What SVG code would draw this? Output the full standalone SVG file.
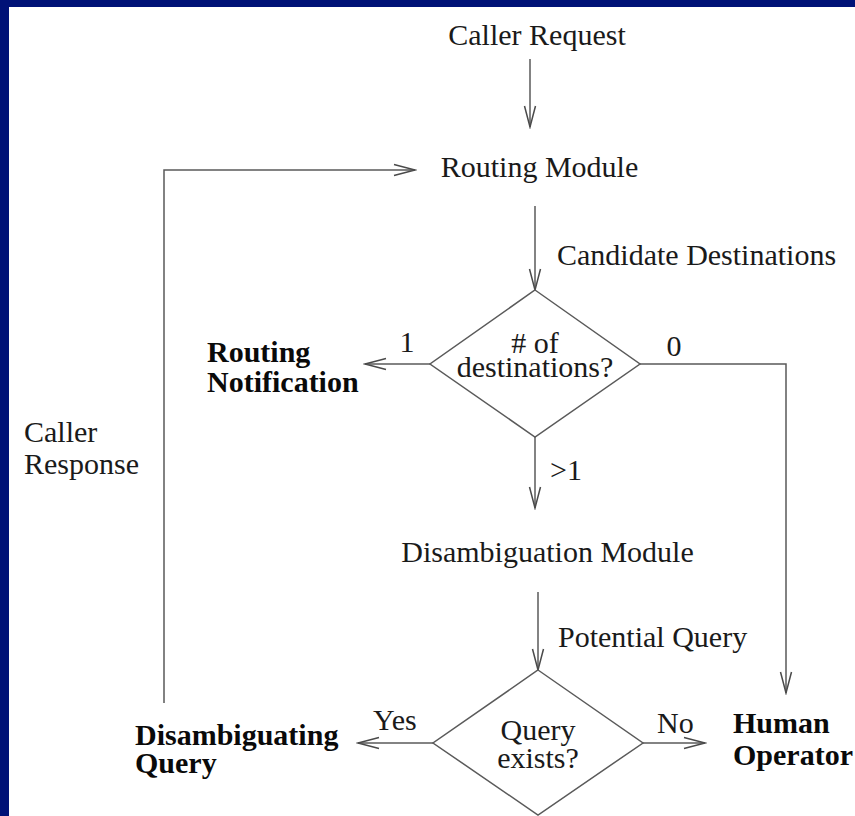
<svg xmlns="http://www.w3.org/2000/svg" width="855" height="816" viewBox="0 0 855 816">
  <style>
    .t { font-family: "Liberation Serif", "Times New Roman", serif; font-size: 30px; fill: #1a1a1a; }
    .b { font-weight: bold; fill: #0a0a0a; }
    .m { text-anchor: middle; }
    .ln { fill: none; stroke: #5a5a5a; stroke-width: 1.5; }
    .ar { marker-end: url(#head); }
    .dm { fill: #ffffff; stroke: #5a5a5a; stroke-width: 1.5; }
  </style>
  <defs>
    <marker id="head" markerUnits="userSpaceOnUse" markerWidth="24" markerHeight="14" viewBox="-22 -7 24 14" refX="0" refY="0" orient="auto">
      <path d="M -21 -5.5 L 0 0 L -21 5.5" fill="none" stroke="#4a4a4a" stroke-width="1.5"/>
    </marker>
  </defs>

  <!-- page frame -->
  <rect x="0" y="0" width="855" height="816" fill="#ffffff"/>
  <rect x="0" y="0" width="855" height="7" fill="#001277"/>
  <rect x="0" y="0" width="9" height="816" fill="#001277"/>

  <!-- connectors -->
  <g id="connectors">
    <line class="ln ar" x1="530" y1="59" x2="530" y2="127"/>
    <polyline class="ln ar" points="164,703 164,170 415,170"/>
    <line class="ln ar" x1="535" y1="206" x2="535" y2="290"/>
    <line class="ln ar" x1="430" y1="364" x2="365" y2="364"/>
    <polyline class="ln ar" points="640,364 786,364 786,693"/>
    <line class="ln ar" x1="535" y1="437" x2="535" y2="508"/>
    <line class="ln ar" x1="538" y1="592" x2="538" y2="670"/>
    <line class="ln ar" x1="433" y1="743" x2="358" y2="743"/>
    <line class="ln ar" x1="643" y1="743" x2="705" y2="743"/>
    <text class="t" x="557" y="265">Candidate Destinations</text>
    <text class="t m" x="407" y="352">1</text>
    <text class="t m" x="674" y="356">0</text>
    <text class="t" x="550" y="480">&gt;1</text>
    <text class="t" x="558" y="647">Potential Query</text>
    <text class="t" x="373" y="730">Yes</text>
    <text class="t" x="657" y="733">No</text>
    <text class="t" x="24" y="442">Caller</text>
    <text class="t" x="24" y="474">Response</text>
  </g>

  <g id="caller-request">
    <text class="t m" x="537" y="45">Caller Request</text>
  </g>

  <g id="routing-module">
    <text class="t m" x="539.5" y="177">Routing Module</text>
  </g>

  <g id="destination-count">
    <polygon class="dm" points="535,290 640,364 535,437 430,364"/>
    <text class="t m" x="535" y="353"># of</text>
    <text class="t m" x="535" y="377">destinations?</text>
  </g>

  <g id="routing-notification">
    <text class="t b" x="207" y="362">Routing</text>
    <text class="t b" x="207" y="392">Notification</text>
  </g>

  <g id="disambiguation-module">
    <text class="t m" x="547.5" y="562">Disambiguation Module</text>
  </g>

  <g id="query-exists">
    <polygon class="dm" points="538,670 643,743 538,815 433,743"/>
    <text class="t m" x="538" y="740">Query</text>
    <text class="t m" x="538" y="768">exists?</text>
  </g>

  <g id="disambiguating-query">
    <text class="t b" x="135" y="745">Disambiguating</text>
    <text class="t b" x="135" y="773">Query</text>
  </g>

  <g id="human-operator">
    <text class="t b" x="733" y="733">Human</text>
    <text class="t b" x="733" y="765">Operator</text>
  </g>
</svg>
